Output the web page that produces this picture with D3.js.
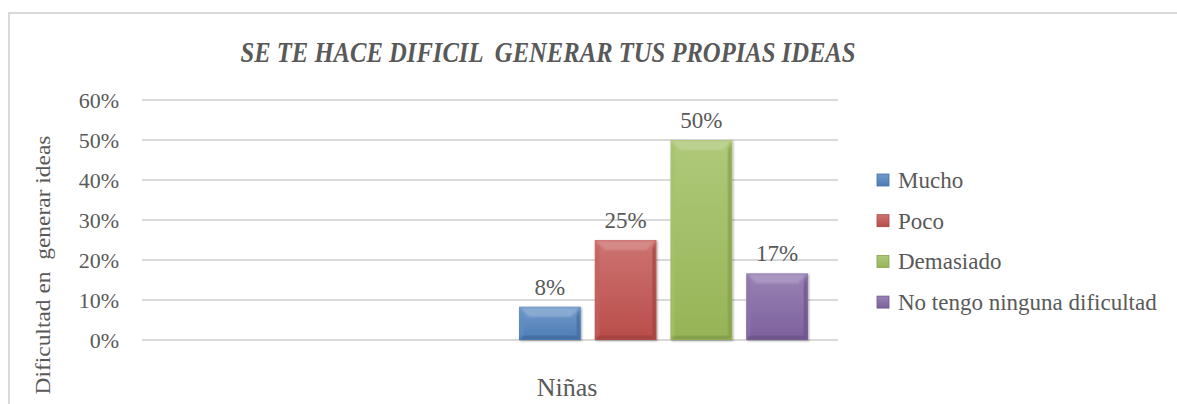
<!DOCTYPE html>
<html>
<head>
<meta charset="utf-8">
<script src="https://cdn.jsdelivr.net/npm/d3@7"></script>
<style>
  body { margin: 0; background: #fff; }
</style>
</head>
<body>
<svg width="1177" height="404"></svg>
<script>
// data
var category = "Niñas";
var series = ["Mucho", "Poco", "Demasiado", "No tengo ninguna dificultad"];
var values = [0.0833, 0.25, 0.50, 0.1667];
var colors = ["#4f81bd", "#c0504d", "#9bbb59", "#8064a2"];
var yTicks = [0, 0.1, 0.2, 0.3, 0.4, 0.5, 0.6];

var svg = d3.select("svg");
var txt = "#595959";
var serif = "'Liberation Serif'";

// frame
svg.append("path")
    .attr("d", "M9,404 L9,13 L1177,13")
    .attr("fill", "none")
    .attr("stroke", "#d9d9d9")
    .attr("stroke-width", 2);

var y = d3.scaleLinear().domain([0, 0.6]).range([340, 100]);
var plotLeft = 142, plotRight = 838;
var x = d3.scaleBand().domain(series).range([519, 808]).paddingInner(0.184);

// grid
svg.append("g").selectAll("line")
    .data(yTicks)
    .enter()
  .append("line")
    .attr("x1", plotLeft)
    .attr("x2", plotRight)
    .attr("y1", function(d) { return y(d); })
    .attr("y2", function(d) { return y(d); })
    .attr("stroke", "#d9d9d9")
    .attr("stroke-width", 2);

// y tick labels
svg.append("g").selectAll("text")
    .data(yTicks)
    .enter()
  .append("text")
    .attr("x", 119)
    .attr("y", function(d) { return y(d); })
    .attr("dy", "0.35em")
    .attr("text-anchor", "end")
    .attr("fill", txt)
    .style("font-family", serif)
    .style("font-size", "22px")
    .text(d3.format(".0%"));

// y axis title
svg.append("text")
    .attr("transform", "translate(50,265) rotate(-90)")
    .attr("text-anchor", "middle")
    .attr("fill", txt)
    .style("font-family", serif)
    .style("font-size", "20px")
    .style("white-space", "pre")
    .attr("textLength", 259)
    .attr("lengthAdjust", "spacingAndGlyphs")
    .text("Dificultad en  generar ideas");

// title
svg.append("text")
    .attr("x", 548)
    .attr("y", 62)
    .attr("text-anchor", "middle")
    .attr("fill", txt)
    .style("font-family", serif)
    .style("font-size", "29px")
    .style("font-weight", "bold")
    .style("font-style", "italic")
    .style("white-space", "pre")
    .attr("textLength", 615)
    .attr("lengthAdjust", "spacingAndGlyphs")
    .text("SE TE HACE DIFICIL  GENERAR TUS PROPIAS IDEAS");

// category label
svg.append("text")
    .attr("x", 567)
    .attr("y", 396)
    .attr("text-anchor", "middle")
    .attr("fill", txt)
    .style("font-family", serif)
    .style("font-size", "26px")
    .text(category);

// gradients
var defs = svg.append("defs");
colors.forEach(function(c, i) {
  var g = defs.append("linearGradient")
      .attr("id", "g" + i)
      .attr("x1", 0).attr("y1", 0).attr("x2", 0).attr("y2", 1);
  g.append("stop").attr("offset", "0%").attr("stop-color", d3.interpolateRgb(c, "#fff")(0.2));
  g.append("stop").attr("offset", "100%").attr("stop-color", d3.color(c).darker(0.1));
});
var sh = defs.append("filter").attr("id", "sh")
    .attr("x", "-10%").attr("y", "-10%").attr("width", "130%").attr("height", "130%");
sh.append("feDropShadow").attr("dx", 1).attr("dy", 1).attr("stdDeviation", 1.2)
    .attr("flood-color", "#000").attr("flood-opacity", 0.35);
var bl = defs.append("filter").attr("id", "bl");
bl.append("feGaussianBlur").attr("stdDeviation", 1.3);

// bars with bevel
var b = 10;
var bars = svg.append("g").selectAll("g")
    .data(values)
    .enter()
  .append("g");

bars.append("rect")
    .attr("x", function(d, i) { return x(series[i]); })
    .attr("y", function(d) { return y(d); })
    .attr("width", x.bandwidth())
    .attr("height", function(d) { return y(0) - y(d); })
    .attr("fill", function(d, i) { return "url(#g" + i + ")"; })
    .attr("filter", "url(#sh)");

function bevel(side) {
  return function(d, i) {
    var x0 = x(series[i]), x1 = x0 + x.bandwidth(), y0 = y(d), y1 = y(0);
    var bb = Math.min(b, (y1 - y0) / 3);
    var p;
    if (side === "top") p = [[x0 + 1, y0 + 1], [x1 - 1, y0 + 1], [x1 - bb, y0 + bb], [x0 + bb, y0 + bb]];
    if (side === "left") p = [[x0 + 1, y0 + 1], [x0 + 4, y0 + bb], [x0 + 4, y1 - 4], [x0 + 1, y1 - 1]];
    if (side === "right") p = [[x1 - 1, y0 + 1], [x1 - 4, y0 + bb], [x1 - 4, y1 - 4], [x1 - 1, y1 - 1]];
    if (side === "bottom") p = [[x0 + 1, y1 - 1], [x0 + 4, y1 - 4], [x1 - 4, y1 - 4], [x1 - 1, y1 - 1]];
    return "M" + p.join("L") + "Z";
  };
}
var shade = {
  top: function(c) { return d3.interpolateRgb(c, "#fff")(0.35); },
  left: function(c) { return d3.interpolateRgb(c, "#fff")(0.1); },
  right: function(c) { return d3.color(c).darker(0.5); },
  bottom: function(c) { return d3.color(c).darker(0.6); }
};
["top", "left", "right", "bottom"].forEach(function(s) {
  bars.append("path")
      .attr("d", bevel(s))
      .attr("fill", function(d, i) { return shade[s](colors[i]); })
      .attr("filter", "url(#bl)")
      .attr("opacity", 0.9);
});

// value labels
svg.append("g").selectAll("text")
    .data(values)
    .enter()
  .append("text")
    .attr("x", function(d, i) { return x(series[i]) + x.bandwidth() / 2; })
    .attr("y", function(d) { return y(d) - 12; })
    .attr("text-anchor", "middle")
    .attr("fill", txt)
    .style("font-family", serif)
    .style("font-size", "23px")
    .text(d3.format(".0%"));

// legend
var legend = svg.append("g").selectAll("g")
    .data(series)
    .enter()
  .append("g")
    .attr("transform", function(d, i) { return "translate(877," + (180 + i * 40.7) + ")"; });

legend.append("rect")
    .attr("x", 0)
    .attr("y", -6)
    .attr("width", 12)
    .attr("height", 12)
    .attr("fill", function(d, i) { return "url(#g" + i + ")"; })
    .attr("stroke", function(d, i) { return d3.color(colors[i]).darker(0.4); })
    .attr("stroke-width", 0.8);

legend.append("text")
    .attr("x", 21)
    .attr("dy", "0.35em")
    .attr("fill", txt)
    .style("font-family", serif)
    .style("font-size", "23px")
    .text(function(d) { return d; });
</script>
</body>
</html>
